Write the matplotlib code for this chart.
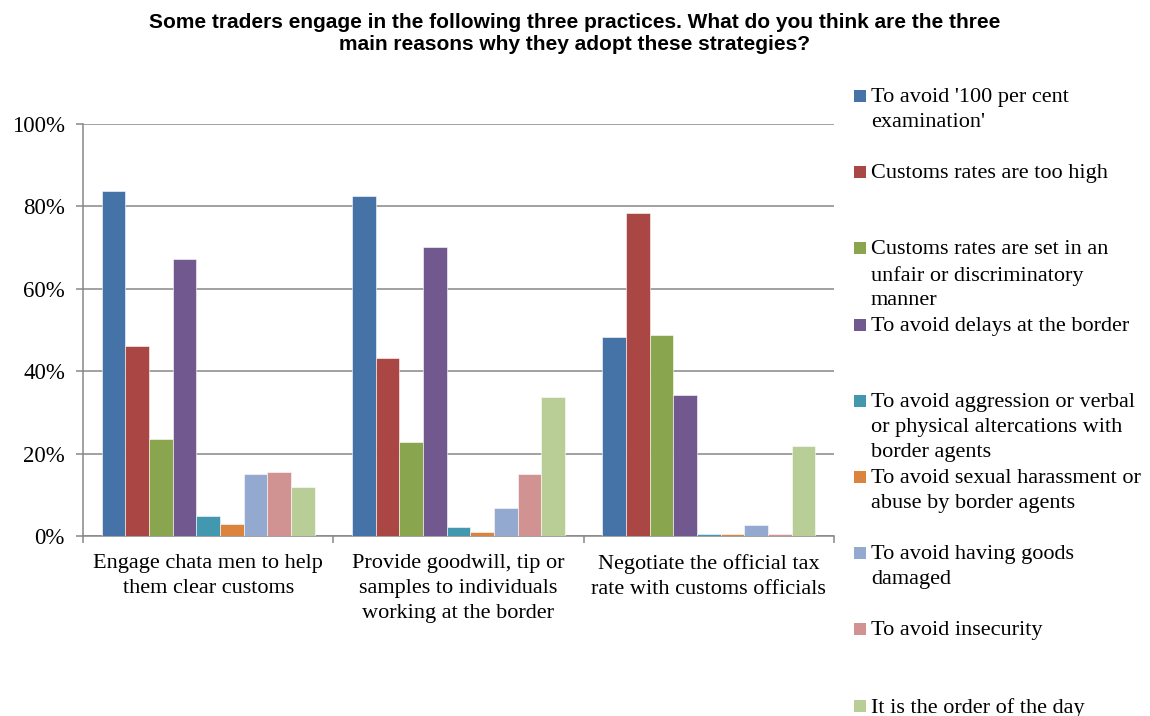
import matplotlib
matplotlib.use("Agg")
import matplotlib.pyplot as plt
from matplotlib.patches import Rectangle
import numpy as np

categories = [
    "Engage chata men to help\nthem clear customs",
    "Provide goodwill, tip or\nsamples to individuals\nworking at the border",
    "Negotiate the official tax\nrate with customs officials",
]
series_names = [
    "To avoid '100 per cent\nexamination'",
    "Customs rates are too high",
    "Customs rates are set in an\nunfair or discriminatory\nmanner",
    "To avoid delays at the border",
    "To avoid aggression or verbal\nor physical altercations with\nborder agents",
    "To avoid sexual harassment or\nabuse by border agents",
    "To avoid having goods\ndamaged",
    "To avoid insecurity",
    "It is the order of the day",
]
avoid_100pct_exam = [83.7, 82.5, 48.3]
rates_too_high = [46.0, 43.2, 78.5]
rates_unfair = [23.5, 22.9, 48.8]
avoid_delays = [67.3, 70.2, 34.2]
avoid_aggression = [4.95, 2.1, 0.5]
avoid_harassment = [2.8, 1.0, 0.5]
avoid_goods_damaged = [15.1, 6.7, 2.7]
avoid_insecurity = [15.6, 15.1, 0.5]
order_of_the_day = [11.8, 33.7, 21.9]
series_values = [avoid_100pct_exam, rates_too_high, rates_unfair, avoid_delays,
                 avoid_aggression, avoid_harassment, avoid_goods_damaged,
                 avoid_insecurity, order_of_the_day]
y_ticks = [0, 20, 40, 60, 80, 100]
y_tick_labels = ["0%", "20%", "40%", "60%", "80%", "100%"]

colors = ["#4572A7", "#AA4643", "#89A54E", "#71588F", "#4198AF",
          "#DB843D", "#93A9CF", "#D19392", "#B9CD96"]

serif = ["Liberation Serif", "DejaVu Serif"]
fig = plt.figure(figsize=(11.5, 7.16), dpi=100)
ax = fig.add_axes([83 / 1150, 180 / 716, (834 - 83) / 1150, (536 - 124) / 716])

n = len(series_values)
group_w = 0.852
bw = group_w / n
x = np.arange(len(categories))
for i, vals in enumerate(series_values):
    ax.bar(x - group_w / 2 + bw * (i + 0.5), vals, width=bw, color=colors[i],
           edgecolor="white", linewidth=0.4, zorder=3)

ax.set_xlim(-0.5, len(categories) - 0.5)
ax.set_ylim(0, 100)
ax.set_yticks(y_ticks)
ax.set_yticklabels(y_tick_labels, fontfamily=serif, fontsize=16.5, color="#000000")
ax.yaxis.grid(True, color="#878787", linewidth=1.1, zorder=0)
ax.set_axisbelow(True)

ax.set_xticks(x)
ax.set_xticklabels(categories, fontfamily=serif, fontsize=16, linespacing=1.42)
ax.set_xticks(np.arange(-0.5, len(categories)), minor=True)
ax.tick_params(axis="x", which="major", length=0, pad=13)
ax.tick_params(axis="x", which="minor", length=5, width=1.1, color="#878787", direction="out")
ax.tick_params(axis="y", length=5, width=1.1, color="#878787", pad=8)

for s in ["top", "right"]:
    ax.spines[s].set_visible(False)
for s in ["left", "bottom"]:
    ax.spines[s].set_color("#878787")
    ax.spines[s].set_linewidth(1.1)

fig.text(575 / 1150, 1 - 13 / 716,
         "Some traders engage in the following three practices. What do you think are the three\nmain reasons why they adopt these strategies?",
         ha="center", va="top", fontfamily=["Liberation Sans", "DejaVu Sans"],
         fontweight="bold", fontsize=15, linespacing=1.2)

# legend placed like the original
for i, name in enumerate(series_names):
    yc = 96 + i * 76.2
    fig.patches.append(Rectangle((854 / 1150, 1 - (yc + 6) / 716), 12 / 1150, 12 / 716,
                                 transform=fig.transFigure, facecolor=colors[i],
                                 edgecolor="none"))
    fig.text(871 / 1150, 1 - (yc - 8) / 716, name, ha="left", va="top",
             fontfamily=serif, fontsize=16, linespacing=1.42)

fig.savefig("out.png", dpi=100, facecolor="white")
